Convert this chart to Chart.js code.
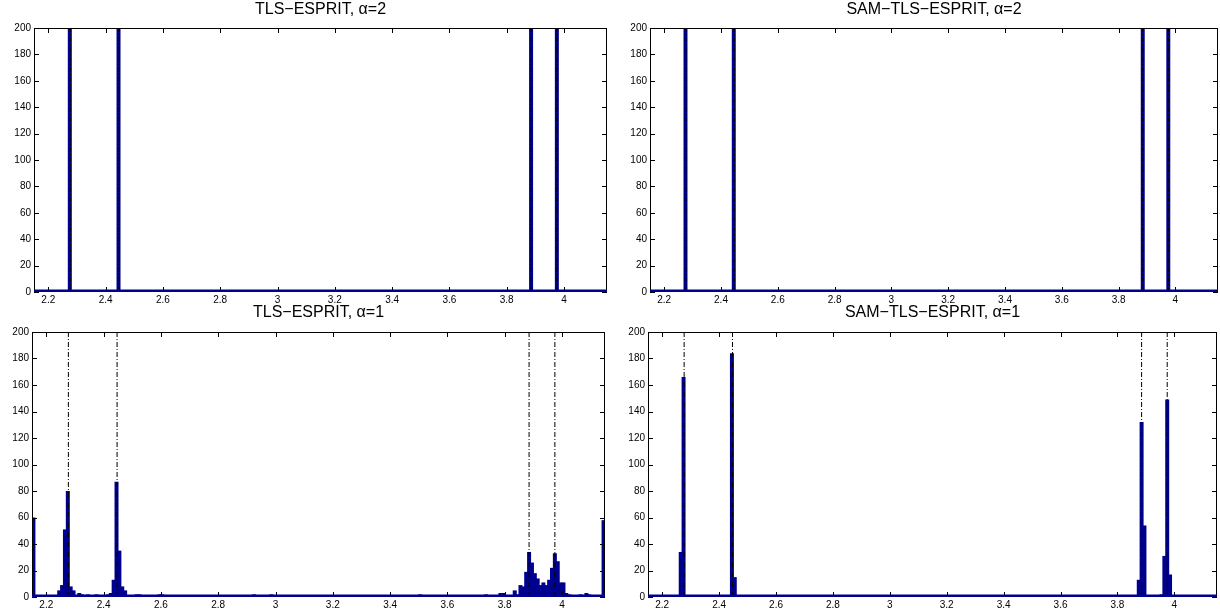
<!DOCTYPE html>
<html>
<head>
<meta charset="utf-8">
<script src="https://cdn.jsdelivr.net/npm/chart.js@4.4.1/dist/chart.umd.min.js"></script>
<style>
  html, body { margin: 0; padding: 0; background: #fff; }
  #page { position: relative; width: 1220px; height: 609px; overflow: hidden; }
  .panel { position: absolute; }
</style>
</head>
<body>
<div id="page">
  <div class="panel" style="left:0;top:0;width:610px;height:305px"><canvas id="tlsA2"></canvas></div>
  <div class="panel" style="left:616px;top:0;width:604px;height:305px"><canvas id="samA2"></canvas></div>
  <div class="panel" style="left:0;top:300px;width:610px;height:309px"><canvas id="tlsA1"></canvas></div>
  <div class="panel" style="left:616px;top:300px;width:604px;height:309px"><canvas id="samA1"></canvas></div>
</div>
<script>
// histogram bins: 200 bins of width 0.01 from 2.15 to 4.15
const binStart = 2.15;
const binWidth = 0.01;
const binCount = 200;
const binCenters = Array.from({ length: binCount }, (_, i) => +(binStart + binWidth * (i + 0.5)).toFixed(3));

const xTickValues = [2.2, 2.4, 2.6, 2.8, 3, 3.2, 3.4, 3.6, 3.8, 4];
const yTickValues = [0, 20, 40, 60, 80, 100, 120, 140, 160, 180, 200];

// true frequencies (dash-dot lines)
const trueFreqs = [2.277, 2.447, 3.885, 3.975];

// TLS-ESPRIT, alpha=2 (non-empty bins only)
const tlsA2Centers = [2.275, 2.445, 3.885, 3.975];
const tlsA2Counts = [200, 200, 200, 200];

// SAM-TLS-ESPRIT, alpha=2
const samA2Centers = [2.275, 2.445, 3.885, 3.975];
const samA2Counts = [200, 200, 200, 200];

// TLS-ESPRIT, alpha=1 (all 200 bins)
const tlsA1Counts = [
  60, 0, 0, 1, 0, 1, 0, 1, 1, 5, 9, 51, 80, 8, 5, 1, 3, 2, 1, 2,
  1, 1, 2, 1, 0, 1, 2, 3, 13, 87, 35, 8, 5, 1, 1, 0, 2, 2, 1, 1,
  1, 1, 0, 0, 2, 2, 1, 0, 1, 0, 0, 0, 0, 0, 0, 0, 0, 1, 0, 0,
  1, 0, 0, 0, 0, 0, 0, 0, 1, 0, 1, 0, 0, 0, 0, 0, 0, 2, 1, 1,
  0, 1, 0, 2, 0, 1, 0, 0, 1, 0, 0, 1, 1, 0, 0, 0, 0, 0, 0, 0,
  0, 1, 0, 1, 0, 0, 0, 1, 0, 0, 0, 1, 0, 0, 0, 0, 0, 0, 0, 0,
  0, 0, 0, 1, 0, 0, 0, 0, 1, 0, 1, 0, 0, 0, 0, 2, 0, 0, 1, 0,
  0, 1, 0, 0, 0, 1, 0, 0, 0, 0, 0, 0, 0, 0, 0, 0, 0, 1, 2, 1,
  1, 0, 1, 3, 3, 1, 0, 0, 5, 2, 9, 8, 19, 34, 26, 18, 14, 9, 11, 9,
  13, 22, 33, 27, 11, 11, 3, 2, 1, 0, 1, 2, 1, 3, 2, 1, 1, 1, 0, 58
];

// SAM-TLS-ESPRIT, alpha=1 (non-empty bins only)
const samA1Centers = [2.265, 2.275, 2.435, 2.445, 2.455, 3.865, 3.875, 3.885, 3.895, 3.955, 3.965, 3.975, 3.985];
const samA1Counts = [34, 166, 1, 184, 15, 1, 13, 132, 54, 2, 31, 149, 17];

const barColor = '#00008f';

function fillBins(centers, counts) {
  const out = new Array(binCount).fill(0);
  centers.forEach((c, i) => {
    out[Math.round((c - binStart) / binWidth - 0.5)] = counts[i];
  });
  return out;
}

const fmt = v => String(Number(v.toFixed(1)));

Chart.defaults.font.family = '"Liberation Sans", Arial, Helvetica, sans-serif';
Chart.defaults.color = '#000';

// box, inward ticks and the blue zero line, MATLAB style
const matlabAxes = {
  id: 'matlabAxes',
  afterDraw(chart) {
    const { ctx, chartArea: a } = chart;
    const x = chart.scales.x, y = chart.scales.y;
    ctx.save();
    ctx.strokeStyle = '#000';
    ctx.lineWidth = 1;
    ctx.strokeRect(a.left + 0.5, a.top + 0.5, a.width - 1, a.height - 1);
    ctx.beginPath();
    x.ticks.forEach(t => {
      const px = Math.round(x.getPixelForValue(t.value)) + 0.5;
      ctx.moveTo(px, a.top); ctx.lineTo(px, a.top + 5);
      ctx.moveTo(px, a.bottom); ctx.lineTo(px, a.bottom - 5);
    });
    y.ticks.forEach(t => {
      const py = Math.round(y.getPixelForValue(t.value)) + 0.5;
      ctx.moveTo(a.left, py); ctx.lineTo(a.left + 5, py);
      ctx.moveTo(a.right, py); ctx.lineTo(a.right - 5, py);
    });
    ctx.stroke();
    const y0 = y.getPixelForValue(0);
    ctx.strokeStyle = barColor;
    ctx.lineWidth = 2.5;
    ctx.beginPath();
    ctx.moveTo(a.left, y0 - 1.2);
    ctx.lineTo(a.right, y0 - 1.2);
    ctx.stroke();
    ctx.restore();
  }
};

function makeHist(id, title, counts, yw, xh, titlePad, rightPad) {
  const lineSets = trueFreqs.map(f => ({
    type: 'line',
    data: [{ x: f, y: 0 }, { x: f, y: 200 }],
    borderColor: '#000',
    borderWidth: 1,
    borderDash: [5, 2, 1, 2],
    pointRadius: 0,
    fill: false,
    order: 0
  }));
  new Chart(document.getElementById(id), {
    type: 'bar',
    data: {
      datasets: [
        ...lineSets,
        {
          type: 'bar',
          data: binCenters.map((c, i) => ({ x: c, y: counts[i] })),
          backgroundColor: barColor,
          borderWidth: 0,
          barPercentage: 1.4,
          categoryPercentage: 1,
          order: 1
        }
      ]
    },
    options: {
      responsive: true,
      maintainAspectRatio: false,
      animation: false,
      layout: { padding: { left: 0, right: rightPad, top: 0, bottom: 0 } },
      plugins: {
        legend: { display: false },
        tooltip: { enabled: false },
        title: {
          display: true,
          fullSize: false,
          text: title,
          color: '#000',
          font: { size: 16, weight: 'normal' },
          padding: titlePad
        }
      },
      scales: {
        x: {
          type: 'linear',
          min: binStart,
          max: binStart + binWidth * binCount,
          offset: false,
          grid: { display: false, drawTicks: false, offset: false },
          border: { display: false },
          ticks: { font: { size: 10 }, color: '#000', padding: 2, maxRotation: 0, autoSkip: false, callback: v => fmt(v) },
          afterBuildTicks: s => { s.ticks = xTickValues.map(v => ({ value: v })); },
          afterFit: s => { s.height = xh; }
        },
        y: {
          min: 0,
          max: 200,
          grid: { display: false, drawTicks: false },
          border: { display: false },
          ticks: { font: { size: 10 }, color: '#000', padding: 3, autoSkip: false },
          afterBuildTicks: s => { s.ticks = yTickValues.map(v => ({ value: v })); },
          afterFit: s => { s.width = yw; }
        }
      }
    },
    plugins: [matlabAxes]
  });
}

makeHist('tlsA2', 'TLS\u2212ESPRIT, \u03b1=2', fillBins(tlsA2Centers, tlsA2Counts), 34, 13, { top: 0, bottom: 8.8 }, 3);
makeHist('samA2', 'SAM\u2212TLS\u2212ESPRIT, \u03b1=2', fillBins(samA2Centers, samA2Counts), 34, 13, { top: 0, bottom: 8.8 }, 2);
makeHist('tlsA1', 'TLS\u2212ESPRIT, \u03b1=1', tlsA1Counts, 32, 12, { top: 3.4, bottom: 9.4 }, 5);
makeHist('samA1', 'SAM\u2212TLS\u2212ESPRIT, \u03b1=1', fillBins(samA1Centers, samA1Counts), 32, 12, { top: 3.4, bottom: 9.4 }, 3);
</script>
</body>
</html>
